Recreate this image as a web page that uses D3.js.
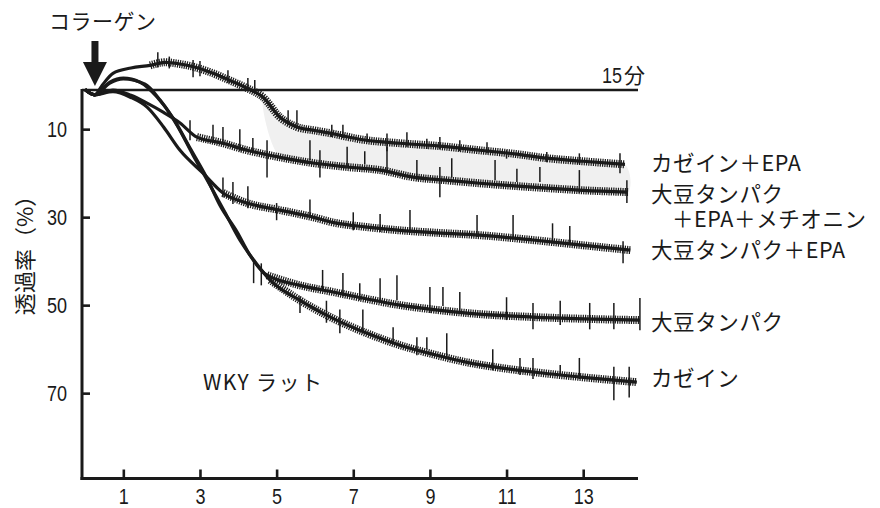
<!DOCTYPE html>
<html>
<head>
<meta charset="utf-8">
<script src="https://cdn.jsdelivr.net/npm/d3@7"></script>
<style>
  body { margin: 0; background: #fff; }
  svg { display: block; }
</style>
</head>
<body>
<svg id="chart" width="880" height="508"></svg>
<script>
// Platelet aggregation traces after collagen addition (WKY rats), transmittance (%) vs. minutes.
const xTicks = [1, 3, 5, 7, 9, 11, 13];
const yTicks = [10, 30, 50, 70];
const collagenAt = 0.26;           // minute at which collagen is added
const baselineValue = 1.1;         // transmittance of the reference line
const bottomValue = 89.4;
const endMinute = 14.43;

const seriesNames = ["カゼイン＋EPA", "大豆タンパク＋EPA＋メチオニン", "大豆タンパク＋EPA", "大豆タンパク", "カゼイン"];

// [minute, transmittance %]
const caseinEpa = [[0,1],[0.25,2.2],[0.45,0],[0.73,-2.7],[1.2,-3.9],[1.7,-4.5],[2.09,-5.2],[2.48,-4.8],[2.9,-4.0],[3.34,-2.7],[3.8,-1.0],[4.23,0.7],[4.64,2.7],[5.09,7.3],[5.53,9.5],[6.0,10.3],[6.39,10.9],[7.25,12.4],[8.22,13.2],[9.2,13.8],[10.3,14.8],[11.2,15.6],[12.05,16.6],[13.0,17.3],[14.09,18.0]];
const soyEpaMet = [[0,1],[0.25,2.2],[0.73,1.1],[1.2,2.3],[1.62,4.1],[2.05,6.2],[2.48,8.6],[2.92,11.8],[3.6,13.2],[4.23,14.8],[5.09,16.4],[5.95,17.7],[6.84,18.6],[7.7,19.3],[8.56,20.9],[9.4,21.6],[10.3,22.3],[11.2,22.9],[12.05,23.4],[13.0,23.9],[14.17,24.3]];
const soyEpa = [[0,1],[0.25,2.2],[0.73,1.5],[1.2,2.8],[1.62,5],[2.05,9.5],[2.48,14.8],[3.08,20],[3.6,24.5],[4.23,26.8],[5.09,28.4],[5.95,30],[6.47,31.2],[7.3,32.2],[8.22,33],[9.08,33.5],[10.3,34.1],[11.69,35.2],[12.9,36.3],[14.23,37.5]];
const soy = [[0,1],[0.25,2.2],[0.65,-0.7],[1.0,-1.6],[1.43,-0.7],[1.88,2.7],[2.3,7.5],[2.74,14.3],[3.18,21.1],[3.52,27.3],[3.97,33.4],[4.3,38.6],[4.75,43.2],[5.61,45.5],[6.47,47],[7.3,48.5],[8.22,50],[9.1,51],[9.97,51.8],[11.69,52.7],[13.0,53.1],[14.48,53.4]];
const casein = [[0,1],[0.25,2.2],[0.65,-0.5],[1.0,-1.4],[1.57,-0.2],[1.96,3.4],[2.4,9.1],[2.82,15.9],[3.26,22.7],[3.65,28.9],[4.04,35.2],[4.44,40.2],[4.83,44.3],[5.61,48.9],[6.47,53],[7.36,56.4],[8.22,59.1],[9.1,61.2],[9.97,63],[10.8,64.2],[11.69,65.2],[13.0,66.4],[14.4,67.5]];

// Recorder spikes: [minute, top %, bottom %]
const caseinEpaSpikes = [[1.9,-7.5,-4],[2.2,-6.5,-3.8],[2.82,-5.7,-1.8],[3.0,-5.5,-2],[3.73,-3.4,-0.5],[4.25,-1.6,1.1],[4.43,-1.2,2],[5.3,5.7,9.1],[5.53,5.7,9],[6.44,9,11.8],[6.73,9,12],[7.36,11,13],[7.88,11,15],[8.4,10.7,14],[8.92,12.2,14.5],[9.26,11.8,14.5],[9.78,12.5,15],[10.49,13,15.5],[11.0,14.8,16.7],[12.05,15.2,17.5],[12.9,15.5,18],[13.96,15.5,20]];
const soyEpaMetSpikes = [[2.74,8,12.5],[3.34,9,13],[3.6,9.5,13.5],[4.04,10,15],[4.38,12,15.5],[4.75,12.5,21],[5.87,12.5,17],[6.13,14.8,21],[6.84,14,18.6],[7.3,15,18],[7.88,14,20],[8.66,17,21.6],[9.26,18.6,25.5],[9.57,16.6,21],[10.7,17,21.6],[11.27,19,22],[11.87,18.6,22],[12.9,19.3,24.5],[14.14,21.6,26.8]];
const soyEpaSpikes = [[3.6,21,25.5],[3.86,22,27],[4.25,23,28],[5.0,26.8,30.7],[5.87,26,30],[7.0,28.9,33],[7.7,29.3,33.4],[8.48,28.4,33.6],[10.23,29.5,34.5],[11.17,29.5,34.5],[12.2,31.4,36],[12.65,32,36],[14.04,35.5,40.5]];
const soySpikes = [[4.4,39.8,45],[4.6,40.5,45.5],[6.2,42,46.6],[6.73,42.7,48],[7.17,45,48.9],[7.7,43.9,48.9],[8.14,43.2,48.9],[9.0,45.9,51.8],[9.34,45.9,50.2],[9.78,47,51.8],[11.0,48.2,53.4],[11.69,49.5,55.5],[12.4,49,54.5],[13.17,49.5,55.5],[13.8,49.5,55.5],[14.48,48.4,55.7]];
const caseinSpikes = [[5.61,48,51.8],[6.3,49,54],[6.65,51,56.4],[7.25,51,56.4],[8.04,55,58.4],[8.66,57.3,61.4],[8.92,57.3,60],[9.44,56.4,61.8],[10.64,60,64.8],[11.35,62,65.9],[11.69,62,66.8],[12.4,63.6,65.9],[12.9,62,66.8],[13.8,64,71.6],[14.2,64,71]];

// minute from which each trace becomes jittery
const noisyFrom = [1.6, 2.9, 3.5, 4.4, 4.6];

const traces = [caseinEpa, soyEpaMet, soyEpa, soy, casein];
const spikes = [caseinEpaSpikes, soyEpaMetSpikes, soyEpaSpikes, soySpikes, caseinSpikes];

const svg = d3.select("#chart");
const ink = "#1a1a1a";
const numFont = "'Liberation Sans', Arial, sans-serif";
const narrow = 0.82;   // horizontal squeeze for the condensed numerals
const numSize = 22;
const jpFont = "'Noto Sans CJK JP', 'Noto Sans', sans-serif";

const x = d3.scaleLinear().domain([0, endMinute]).range([85, 638]);
const y = d3.scaleLinear().domain([baselineValue, bottomValue]).range([90, 478.5]);

const line = d3.line().x(d => x(d[0])).y(d => y(d[1])).curve(d3.curveMonotoneX);

// light band between the top two traces
const fillFrom = 4.4;
const bandPts = caseinEpa.filter(d => d[0] >= fillFrom)
  .concat(soyEpaMet.filter(d => d[0] >= fillFrom).slice().reverse());
svg.append("path")
  .attr("d", d3.line().x(d => x(d[0])).y(d => y(d[1])).curve(d3.curveCatmullRomClosed)(bandPts))
  .attr("fill", "#f0f0f0");

// traces
const gTr = svg.append("g");
traces.forEach((data, i) => {
  const g = gTr.append("g");
  g.append("path")
    .attr("d", line(data.filter(d => d[0] >= noisyFrom[i])))
    .attr("fill", "none").attr("stroke", ink)
    .attr("stroke-width", 8).attr("stroke-dasharray", "1.2 1.1");
  g.selectAll("line.spike").data(spikes[i]).join("line")
    .attr("class", "spike")
    .attr("x1", d => x(d[0])).attr("x2", d => x(d[0]))
    .attr("y1", d => y(d[1])).attr("y2", d => y(d[2]))
    .attr("stroke", ink).attr("stroke-width", 1.5);
  g.append("path")
    .attr("d", line(data))
    .attr("fill", "none").attr("stroke", ink)
    .attr("stroke-width", 3.2).attr("stroke-linejoin", "round");
});

// axes
const yAxis = d3.axisLeft(y).tickValues(yTicks).tickSize(-8).tickPadding(15);
const gy = svg.append("g").attr("transform", "translate(82,0)").call(yAxis);
gy.select(".domain").remove();
gy.selectAll(".tick line").attr("stroke", ink).attr("stroke-width", 2.6);
gy.selectAll(".tick text").attr("font-family", numFont).attr("font-size", numSize).attr("fill", ink)
  .attr("x", -15 / narrow).attr("transform", `scale(${narrow},1)`);

const xAxis = d3.axisBottom(x).tickValues(xTicks).tickSize(-9).tickPadding(10);
const gx = svg.append("g").attr("transform", "translate(0,478.5)").call(xAxis);
gx.select(".domain").remove();
gx.selectAll(".tick line").attr("stroke", ink).attr("stroke-width", 2.6);
gx.selectAll(".tick text").attr("font-family", numFont).attr("font-size", numSize).attr("fill", ink)
  .attr("transform", `scale(${narrow},1)`);

svg.append("line").attr("x1", 82).attr("x2", 82).attr("y1", y(baselineValue) - 1).attr("y2", y(bottomValue) + 1.5)
  .attr("stroke", ink).attr("stroke-width", 3);
svg.append("line").attr("x1", 80.5).attr("x2", x(endMinute)).attr("y1", y(bottomValue)).attr("y2", y(bottomValue))
  .attr("stroke", ink).attr("stroke-width", 3);
// reference line (15 min scale)
svg.append("line").attr("x1", 82).attr("x2", x(endMinute)).attr("y1", y(baselineValue)).attr("y2", y(baselineValue))
  .attr("stroke", ink).attr("stroke-width", 2.6);

const scaleLabel = svg.append("g").attr("transform", "translate(602,83)");
scaleLabel.append("text").attr("transform", `scale(${narrow},1)`)
  .attr("font-family", numFont).attr("font-size", numSize).attr("fill", ink).text("15");
scaleLabel.append("text").attr("x", 22)
  .attr("font-family", jpFont).attr("font-size", 21).attr("fill", ink).text("分");

// y title
svg.append("text")
  .attr("transform", "translate(23,250) rotate(-90)")
  .attr("text-anchor", "middle").attr("dominant-baseline", "central")
  .attr("font-family", jpFont).attr("font-size", 22).attr("fill", ink)
  .text("透過率（%）");

// collagen arrow
const ax = x(collagenAt);
svg.append("text").attr("x", 49).attr("y", 29).attr("letter-spacing", 0.5)
  .attr("font-family", jpFont).attr("font-size", 21).attr("fill", ink).text("コラーゲン");
svg.append("rect").attr("x", ax - 3.5).attr("y", 41).attr("width", 7).attr("height", 23).attr("fill", ink);
svg.append("path").attr("d", `M${ax - 12},62 L${ax + 12},62 L${ax},86 Z`).attr("fill", ink);

// trace labels
const labelLayout = [
  { lines: ["カゼイン＋EPA"], x: [651], y: [161] },
  { lines: ["大豆タンパク", "＋EPA＋メチオニン"], x: [651, 672], y: [192, 216.5] },
  { lines: ["大豆タンパク＋EPA"], x: [651], y: [248] },
  { lines: ["大豆タンパク"], x: [651], y: [320] },
  { lines: ["カゼイン"], x: [651], y: [376] }
];
labelLayout.forEach(l => {
  const t = svg.append("text").attr("dominant-baseline", "central")
    .attr("font-family", jpFont).attr("font-size", 21.5).attr("letter-spacing", 0.6).attr("fill", ink);
  l.lines.forEach((s, j) => {
    t.append("tspan").attr("x", l.x[j]).attr("y", l.y[j]).text(s);
  });
});

svg.append("text").attr("x", 203).attr("y", 381).attr("dominant-baseline", "central")
  .attr("letter-spacing", 1.4)
  .attr("font-family", jpFont).attr("font-size", 21).attr("fill", ink).text("WKY ラット");
</script>
</body>
</html>
